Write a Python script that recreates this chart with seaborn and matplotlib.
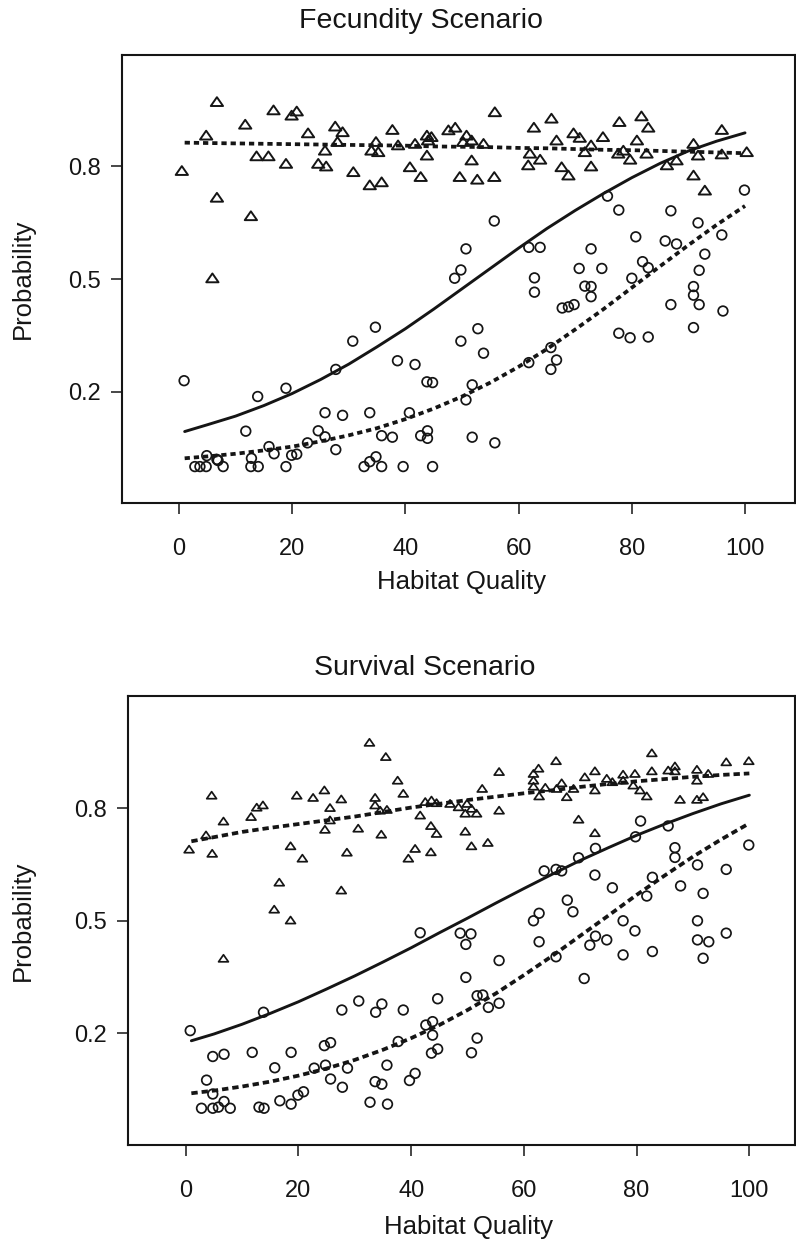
import matplotlib
matplotlib.use("Agg")
import matplotlib.pyplot as plt
from matplotlib.path import Path
import seaborn as sns

# ---------------- data: Fecundity Scenario (top) ----------------
fec_tri_x = [6.7, 16.7, 19.9, 20.8, 11.7, 4.8, 0.5, 6.7, 12.7, 5.9, 13.7, 15.8, 18.9, 22.8, 27.6, 28.9,
             28.0, 25.8, 24.6, 26.0, 30.8, 33.7, 35.8, 34.8, 34.0, 35.2, 37.7, 38.7, 40.8, 42.7, 41.7,
             43.8, 44.6, 44.0, 43.8, 47.6, 48.8, 50.8, 50.2, 51.7, 53.8, 51.7, 49.6, 52.7, 55.7, 55.8,
             62.7, 65.8, 66.7, 62.0, 63.8, 61.7, 69.7, 70.8, 67.6, 68.8, 72.8, 72.8, 71.7, 74.9, 77.8,
             81.7, 82.9, 80.9, 79.7, 77.6, 78.5, 82.6, 86.2, 87.9, 90.9, 91.7, 90.9, 92.9, 95.9, 95.9, 100.3]
fec_tri_y = [0.971, 0.949, 0.935, 0.946, 0.911, 0.882, 0.788, 0.717, 0.668, 0.503, 0.827, 0.827, 0.807,
             0.888, 0.906, 0.891, 0.865, 0.842, 0.807, 0.800, 0.785, 0.750, 0.758, 0.865, 0.842, 0.838,
             0.897, 0.856, 0.798, 0.772, 0.860, 0.882, 0.878, 0.869, 0.829, 0.896, 0.903, 0.882, 0.865,
             0.869, 0.860, 0.816, 0.772, 0.765, 0.772, 0.944, 0.903, 0.927, 0.869, 0.834, 0.818, 0.803,
             0.888, 0.876, 0.798, 0.776, 0.800, 0.856, 0.838, 0.878, 0.918, 0.933, 0.903, 0.869, 0.818,
             0.834, 0.842, 0.834, 0.803, 0.816, 0.860, 0.829, 0.776, 0.736, 0.897, 0.832, 0.838]

fec_circ_x = [0.9, 13.9, 18.9, 27.7, 30.7, 34.7, 38.6, 41.7, 43.8, 44.8, 11.8, 25.8, 28.9, 33.7, 40.7,
              24.6, 25.8, 27.7, 15.9, 16.8, 19.9, 20.8, 22.7, 35.8, 37.7, 42.7, 43.9, 43.9, 4.9, 6.7,
              6.9, 2.8, 3.7, 4.8, 7.8, 12.7, 14.0, 18.9, 32.7, 35.8, 39.6, 44.8, 33.7, 34.8, 12.8,
              62.8, 62.8, 70.7, 74.7, 71.7, 72.8, 72.8, 67.7, 68.8, 69.8, 80.0, 86.9, 90.9, 90.9, 91.9,
              91.9, 96.1, 90.9, 77.7, 79.7, 82.9, 52.8, 49.8, 53.8, 51.8, 50.7, 61.8, 65.7, 66.7, 65.7,
              51.8, 55.8, 48.7, 49.8, 75.7, 77.7, 86.9, 99.9, 55.7, 50.7, 91.7, 95.9, 92.9, 80.7, 85.9,
              87.9, 72.8, 81.9, 82.9, 61.8, 63.8]
fec_circ_y = [0.230, 0.188, 0.210, 0.260, 0.335, 0.372, 0.283, 0.273, 0.227, 0.225, 0.096, 0.145, 0.138,
              0.145, 0.145, 0.097, 0.081, 0.047, 0.055, 0.036, 0.032, 0.035, 0.065, 0.084, 0.080, 0.084,
              0.097, 0.077, 0.031, 0.021, 0.018, 0.002, 0.002, 0.002, 0.002, 0.002, 0.002, 0.002, 0.002,
              0.002, 0.002, 0.002, 0.015, 0.028, 0.024,
              0.503, 0.465, 0.528, 0.528, 0.481, 0.480, 0.453, 0.423, 0.426, 0.432, 0.502, 0.432, 0.480,
              0.457, 0.432, 0.523, 0.415, 0.371, 0.356, 0.344, 0.346, 0.368, 0.335, 0.303, 0.219, 0.179,
              0.278, 0.318, 0.285, 0.260, 0.080, 0.065, 0.502, 0.524, 0.720, 0.683, 0.681, 0.736, 0.654,
              0.580, 0.649, 0.617, 0.566, 0.612, 0.601, 0.593, 0.580, 0.546, 0.530, 0.584, 0.584]

curve_x = [1, 5, 10, 15, 20, 25, 30, 35, 40, 45, 50, 55, 60, 65, 70, 75, 80, 85, 90, 95, 100]
fec_solid = [0.095, 0.113, 0.136, 0.164, 0.196, 0.233, 0.274, 0.320, 0.368, 0.420, 0.474, 0.528,
             0.582, 0.634, 0.682, 0.727, 0.769, 0.807, 0.840, 0.866, 0.888]
fec_dash_circ = [0.024, 0.029, 0.036, 0.045, 0.055, 0.069, 0.085, 0.104, 0.128, 0.156, 0.188, 0.225,
                 0.267, 0.314, 0.366, 0.420, 0.477, 0.534, 0.590, 0.644, 0.694]
fec_dash_tri = [0.862, 0.861, 0.860, 0.859, 0.858, 0.857, 0.856, 0.855, 0.854, 0.852, 0.851, 0.850,
                0.848, 0.847, 0.845, 0.843, 0.842, 0.840, 0.838, 0.836, 0.834]

# ---------------- data: Survival Scenario (bottom) ----------------
surv_tri_x = [32.6, 35.5, 37.6, 38.6, 4.6, 19.7, 22.6, 24.6, 27.6, 33.6, 33.6, 34.5, 35.7, 12.6, 13.7,
              11.6, 6.7, 3.6, 0.6, 4.7, 25.6, 25.6, 24.7, 30.6, 34.7, 18.6, 20.7, 28.6, 41.6, 42.5,
              43.6, 44.5, 43.5, 44.5, 40.7, 39.5, 43.5, 16.6, 27.6, 15.7, 18.6, 6.7, 82.7, 65.7, 55.6,
              62.6, 61.7, 61.7, 61.7, 63.8, 66.7, 65.8, 52.6, 49.9, 48.4, 50.7, 49.6, 51.6, 55.6, 62.7,
              67.6, 69.7, 72.6, 49.6, 50.7, 53.6, 70.8, 72.6, 74.7, 75.7, 77.6, 77.6, 79.7, 68.8, 72.6,
              79.4, 80.6, 81.8, 82.7, 85.6, 86.8, 86.8, 90.7, 92.7, 90.7, 87.7, 90.7, 91.8, 95.9, 99.9, 46.9]
surv_tri_y = [0.976, 0.938, 0.875, 0.840, 0.835, 0.835, 0.829, 0.849, 0.825, 0.829, 0.809, 0.795, 0.797,
              0.803, 0.809, 0.778, 0.766, 0.729, 0.691, 0.680, 0.802, 0.769, 0.744, 0.747, 0.731, 0.700,
              0.667, 0.683, 0.782, 0.818, 0.822, 0.815, 0.754, 0.733, 0.693, 0.667, 0.684, 0.603, 0.582,
              0.531, 0.502, 0.400, 0.948, 0.927, 0.898, 0.907, 0.893, 0.875, 0.859, 0.856, 0.868, 0.853,
              0.853, 0.813, 0.804, 0.800, 0.787, 0.787, 0.795, 0.833, 0.831, 0.771, 0.735, 0.739, 0.700,
              0.709, 0.884, 0.900, 0.880, 0.871, 0.891, 0.875, 0.893, 0.853, 0.849, 0.862, 0.849, 0.833,
              0.900, 0.902, 0.913, 0.900, 0.904, 0.893, 0.875, 0.824, 0.824, 0.831, 0.924, 0.927, 0.813]

surv_circ_x = [0.8, 13.8, 41.6, 27.7, 30.7, 33.7, 34.8, 38.6, 44.7, 42.6, 43.8, 43.8, 43.6, 44.7, 37.7,
               4.8, 6.8, 11.8, 18.7, 24.6, 25.7, 3.7, 15.8, 22.8, 24.8, 28.7, 25.7, 27.8, 35.7, 33.6,
               34.8, 40.7, 39.7, 4.8, 2.8, 4.8, 5.8, 6.8, 7.9, 13.0, 13.9, 16.7, 18.7, 19.9, 20.9, 32.7,
               35.8, 48.7, 50.6, 49.7, 61.7, 62.7, 67.7, 68.7, 62.7, 55.6, 49.7, 51.7, 52.7, 53.7, 55.6,
               51.7, 50.7, 65.7, 70.7, 71.7, 72.7, 74.7, 77.6, 79.7, 77.6, 82.8, 90.8, 90.8, 92.8, 91.8,
               95.9, 80.7, 85.6, 79.8, 72.7, 69.7, 63.6, 65.7, 66.7, 86.8, 86.8, 99.9, 90.8, 95.9, 72.6,
               75.7, 87.8, 82.8, 81.8, 91.8]
surv_circ_y = [0.207, 0.256, 0.468, 0.262, 0.286, 0.256, 0.278, 0.262, 0.292, 0.222, 0.231, 0.195, 0.147,
               0.158, 0.178, 0.138, 0.144, 0.149, 0.149, 0.167, 0.175, 0.075, 0.108, 0.107, 0.115, 0.107,
               0.078, 0.056, 0.115, 0.071, 0.064, 0.093, 0.074, 0.038, 0.000, 0.000, 0.003, 0.018, 0.000,
               0.003, 0.000, 0.020, 0.011, 0.035, 0.044, 0.016, 0.011, 0.467, 0.465, 0.437, 0.500, 0.520,
               0.555, 0.524, 0.444, 0.394, 0.349, 0.300, 0.302, 0.269, 0.280, 0.187, 0.148, 0.404, 0.346,
               0.435, 0.459, 0.449, 0.500, 0.473, 0.409, 0.418, 0.500, 0.449, 0.444, 0.400, 0.467, 0.766,
               0.753, 0.724, 0.693, 0.668, 0.633, 0.637, 0.633, 0.695, 0.669, 0.702, 0.649, 0.637, 0.622,
               0.588, 0.593, 0.616, 0.566, 0.573]

surv_solid = [0.180, 0.198, 0.224, 0.253, 0.284, 0.318, 0.353, 0.390, 0.428, 0.468, 0.507, 0.547,
              0.586, 0.624, 0.661, 0.695, 0.728, 0.758, 0.786, 0.812, 0.835]
surv_dash_circ = [0.040, 0.047, 0.058, 0.071, 0.087, 0.106, 0.129, 0.156, 0.187, 0.222, 0.262, 0.306,
                  0.355, 0.406, 0.460, 0.514, 0.569, 0.621, 0.671, 0.717, 0.760]
surv_dash_tri = [0.712, 0.723, 0.737, 0.748, 0.758, 0.768, 0.778, 0.790, 0.802, 0.812, 0.822, 0.831,
                 0.840, 0.848, 0.857, 0.865, 0.872, 0.878, 0.884, 0.889, 0.893]

titles = ["Fecundity Scenario", "Survival Scenario"]
x_ticks = [0, 20, 40, 60, 80, 100]
y_ticks = [0.2, 0.5, 0.8]
y_ticklabels = ["0.2", "0.5", "0.8"]

# ---------------- styling ----------------
sns.set_theme(style="ticks")
plt.rcParams['font.family'] = ['Liberation Sans', 'DejaVu Sans']
INK = "#151515"

W, H = 796, 1244
fig = plt.figure(figsize=(W / 100, H / 100), dpi=100)
fig.patch.set_facecolor("white")

tri_marker = Path([(-1, -0.72), (1, -0.72), (0, 0.72), (0, 0)],
                  [Path.MOVETO, Path.LINETO, Path.LINETO, Path.CLOSEPOLY])

panels = [
    dict(box=(122, 795, 55, 503), xlim=(-10.07, 108.83), ylim=(-0.0947, 1.0947),
         tx=fec_tri_x, ty=fec_tri_y, cx=fec_circ_x, cy=fec_circ_y,
         solid=fec_solid, dc=fec_dash_circ, dt=fec_dash_tri,
         tri_s=78, circ_s=48, tri_lw=1.4, dash=(0, (1.4, 1.05)),
         title=titles[0], title_xy=(0.444, 1.075), xlab_y=-0.176, xlab_x=0.5045, ylab_x=-0.147),
    dict(box=(128, 795, 696, 1145), xlim=(-10.24, 108.1), ylim=(-0.098, 1.0995),
         tx=surv_tri_x, ty=surv_tri_y, cx=surv_circ_x, cy=surv_circ_y,
         solid=surv_solid, dc=surv_dash_circ, dt=surv_dash_tri,
         tri_s=50, circ_s=48, tri_lw=1.25, dash=(0, (1.7, 1.05)),
         title=titles[1], title_xy=(0.4445, 1.062), xlab_y=-0.183, xlab_x=0.51, ylab_x=-0.157),
]

for p in panels:
    l, r, t, b = p["box"]
    ax = fig.add_axes([l / W, 1 - b / H, (r - l) / W, (b - t) / H])
    ax.set_facecolor("white")

    sns.scatterplot(x=p["tx"], y=p["ty"], marker=tri_marker, s=p["tri_s"],
                    facecolors="none", edgecolors=INK, linewidths=p["tri_lw"], ax=ax, zorder=3)
    sns.scatterplot(x=p["cx"], y=p["cy"], marker="o", s=p["circ_s"],
                    facecolors="none", edgecolors=INK, linewidths=1.25, ax=ax, zorder=3)

    sns.lineplot(x=curve_x, y=p["solid"], color=INK, lw=2.1, errorbar=None, ax=ax, zorder=4)
    sns.lineplot(x=curve_x, y=p["dc"], color=INK, lw=2.7, linestyle=p["dash"],
                 errorbar=None, ax=ax, zorder=4)
    sns.lineplot(x=curve_x, y=p["dt"], color=INK, lw=2.7, linestyle=p["dash"],
                 errorbar=None, ax=ax, zorder=4)

    ax.set_xlim(*p["xlim"])
    ax.set_ylim(*p["ylim"])
    ax.set_xticks(x_ticks)
    ax.set_yticks(y_ticks)
    ax.set_yticklabels(y_ticklabels)

    for side in ["left", "right", "top", "bottom"]:
        ax.spines[side].set_visible(True)
        ax.spines[side].set_color(INK)
        ax.spines[side].set_linewidth(1.5)

    ax.tick_params(axis="both", direction="out", length=8, width=1.1, colors=INK,
                   labelsize=17, labelcolor=INK)
    ax.tick_params(axis="x", pad=17.5)
    ax.tick_params(axis="y", pad=7.5)

    ax.set_xlabel("Habitat Quality", fontsize=18.5, color=INK)
    ax.xaxis.label.set_va("center")
    ax.xaxis.set_label_coords(p["xlab_x"], p["xlab_y"])
    ax.set_ylabel("Probability", fontsize=18.5, color=INK)
    ax.yaxis.label.set_va("center")
    ax.yaxis.set_label_coords(p["ylab_x"], 0.5)

    ax.set_title(p["title"], fontsize=20.5, color=INK, x=p["title_xy"][0], y=p["title_xy"][1],
                 va="center", pad=0)

fig.savefig("out.png", dpi=100, facecolor="white")
